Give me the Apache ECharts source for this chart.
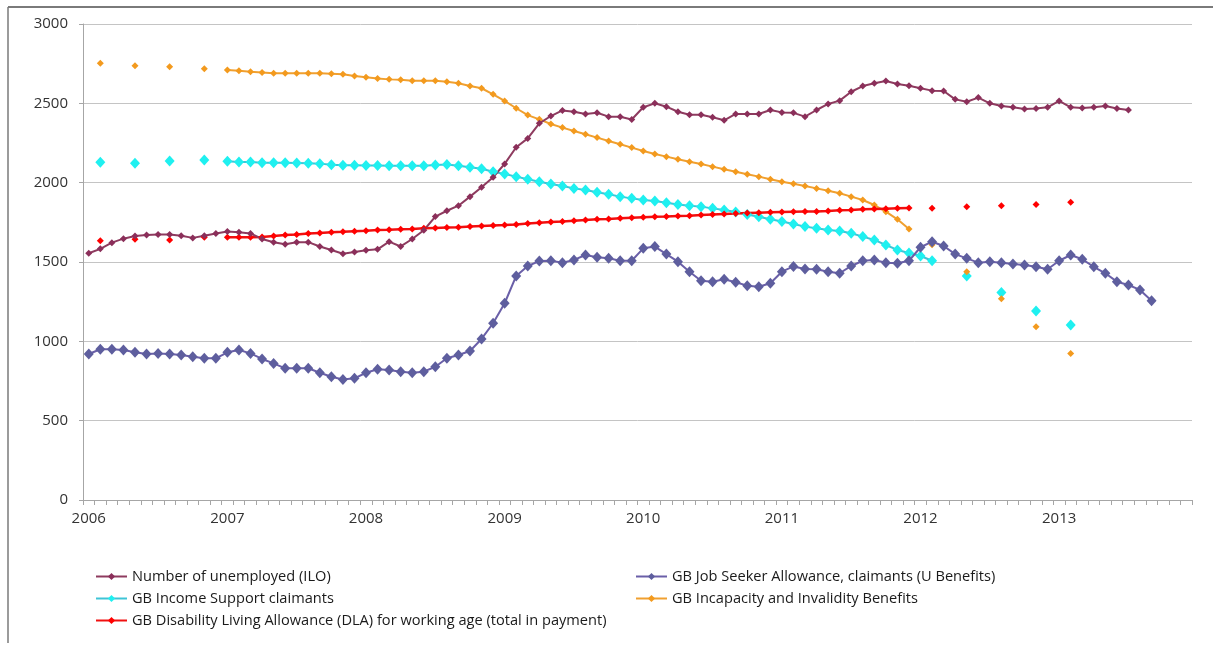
<!DOCTYPE html>
<html>
<head>
<meta charset="utf-8">
<script src="https://cdn.jsdelivr.net/npm/echarts@6/dist/echarts.min.js"></script>
<style>
html,body{margin:0;padding:0;background:#fff;}
#chart{width:1213px;height:648px;}
</style>
</head>
<body>
<div id="chart"></div>
<script>
// ---- data (thousands), monthly slots Jan 2006 .. Dec 2013 ----
const years = ['2006','2007','2008','2009','2010','2011','2012','2013'];
const monthNames = ['01','02','03','04','05','06','07','08','09','10','11','12'];

const seriesNames = [
  'Number of unemployed (ILO)',
  'GB Job Seeker Allowance, claimants (U Benefits)',
  'GB Income Support claimants',
  'GB Incapacity and Invalidity Benefits',
  'GB Disability Living Allowance (DLA) for working age (total in payment)'
];

const unemployed = [
  1555,1583,1622,1647,1664,1670,1674,1674,1666,1652,
  1665,1680,1692,1687,1680,1645,1624,1612,1625,1625,
  1598,1576,1552,1563,1574,1580,1628,1598,1645,1700,
  1786,1823,1855,1912,1971,2034,2118,2223,2279,2374,
  2420,2455,2447,2433,2441,2416,2416,2398,2475,2500,
  2479,2447,2428,2428,2412,2393,2433,2433,2433,2458,
  2443,2440,2416,2458,2496,2517,2573,2609,2626,2641,
  2622,2611,2595,2580,2578,2525,2510,2536,2500,2483,
  2475,2464,2468,2475,2515,2475,2470,2475,2483,2468,
  2458,null,null,null,null,null
];

const jobSeekers = [
  920,950,950,945,931,920,924,920,914,903,
  893,893,931,945,924,889,861,830,830,830,
  802,777,760,767,802,824,819,809,802,809,
  840,893,914,939,1015,1114,1240,1412,1475,1506,
  1508,1496,1513,1544,1530,1523,1508,1508,1586,1597,
  1550,1502,1439,1382,1376,1391,1372,1351,1344,1366,
  1439,1472,1456,1454,1439,1429,1475,1508,1513,1496,
  1492,1508,1593,1628,1601,1550,1523,1496,1502,1496,
  1487,1481,1470,1454,1508,1544,1517,1470,1429,1376,
  1355,1324,1256,null,null,null
];

const incomeSupport = [
  null,2128,null,null,2122,null,null,2137,null,null,2143,null,
  2135,2130,2130,2126,2126,2126,2124,2122,2120,2113,
  2110,2109,2108,2108,2107,2107,2107,2107,2111,2114,
  2107,2097,2088,2069,2055,2038,2021,2006,1992,1979,
  1964,1954,1939,1927,1912,1901,1891,1884,1874,1863,
  1855,1849,1838,1828,1815,1800,1785,1770,1755,1740,
  1723,1712,1702,1695,1681,1660,1639,1607,1576,1557,
  1538,1508,
  null,null,1412,null,null,1307,null,null,1191,null,null,1103,
  null,null,null,null,null,null,null,null,null,null
];

const incapacity = [
  null,2752,null,null,2737,null,null,2731,null,null,2718,null,
  2710,2706,2699,2695,2689,2689,2689,2689,2689,2687,
  2683,2672,2664,2657,2651,2649,2643,2643,2643,2636,
  2626,2609,2595,2557,2515,2469,2426,2399,2370,2347,
  2326,2305,2284,2263,2242,2221,2200,2181,2164,2147,
  2132,2118,2101,2084,2069,2053,2038,2021,2006,1993,
  1979,1964,1949,1933,1912,1891,1859,1817,1769,1708,
  null,1609,null,null,1439,null,null,1269,null,null,1092,null,null,924,
  null,null,null,null,null,null,null,null,null,null
];

const disability = [
  null,1634,null,null,1643,null,null,1639,null,null,1656,null,
  1656,1656,1656,1658,1664,1670,1674,1679,1683,1687,
  1690,1694,1697,1701,1703,1706,1708,1712,1715,1717,
  1719,1723,1727,1730,1733,1737,1743,1748,1752,1755,
  1760,1765,1769,1771,1775,1779,1782,1785,1787,1790,
  1792,1796,1800,1803,1806,1809,1811,1813,1815,1817,
  1818,1819,1821,1826,1828,1832,1834,1836,1838,1840,
  null,1838,null,null,1849,null,null,1855,null,null,1863,null,null,1876,
  null,null,null,null,null,null,null,null,null,null
];

// ---- build ----
const months = [];
years.forEach(y => monthNames.forEach(m => months.push(y + '-' + m)));

const FONT = '"Open Sans", sans-serif';
const chart = echarts.init(document.getElementById('chart'), null, {renderer: 'canvas'});

function lineSeries(name, data, lineColor, markColor, size, width) {
  return {
    name: name, type: 'line', data: data,
    symbol: 'diamond', symbolSize: size, showSymbol: true, showAllSymbol: true,
    connectNulls: false,
    lineStyle: {color: lineColor, width: width},
    itemStyle: {color: markColor, borderWidth: 0},
    emphasis: {disabled: true}
  };
}

const legendText = {fontFamily: FONT, fontSize: 14.6, color: '#1a1a1a'};
function legendItem(name, left, top) {
  return {
    orient: 'horizontal', left: left, top: top, padding: 0,
    itemWidth: 31, itemHeight: 9, itemGap: 4,
    textStyle: legendText,
    data: [name],
    selectedMode: false
  };
}

chart.setOption({
  animation: false,
  backgroundColor: '#ffffff',
  grid: {left: 83, right: 21, top: 24, bottom: 148, containLabel: false},
  xAxis: {
    type: 'category', data: months, boundaryGap: true,
    axisLine: {show: true, lineStyle: {color: '#a6a6a6', width: 1}},
    axisTick: {show: true, interval: 0, length: 5, lineStyle: {color: '#a6a6a6'}},
    axisLabel: {
      interval: function (idx) { return idx % 12 === 0; },
      formatter: function (v) { return v.slice(0, 4); },
      fontFamily: FONT, fontSize: 15, color: '#333', margin: 11
    },
    splitLine: {show: false}
  },
  yAxis: {
    type: 'value', min: 0, max: 3000, interval: 500,
    axisLine: {show: true, lineStyle: {color: '#a6a6a6', width: 1}},
    axisTick: {show: true, length: 4, lineStyle: {color: '#a6a6a6'}},
    axisLabel: {fontFamily: FONT, fontSize: 15, color: '#333', margin: 15,
      formatter: function (v) { return String(v); }},
    splitLine: {show: true, lineStyle: {color: '#c4c4c4', width: 1}}
  },
  legend: [
    legendItem(seriesNames[0], 95, 569),
    legendItem(seriesNames[2], 95, 591),
    legendItem(seriesNames[4], 95, 613),
    legendItem(seriesNames[1], 635, 569),
    legendItem(seriesNames[3], 635, 591)
  ],
  graphic: [
    {type: 'line', shape: {x1: 8, y1: 7, x2: 1213, y2: 7}, style: {stroke: '#7a7a7a', lineWidth: 2}, z: 100},
    {type: 'line', shape: {x1: 8, y1: 7, x2: 8, y2: 643}, style: {stroke: '#7a7a7a', lineWidth: 1.5}, z: 100}
  ],
  series: [
    lineSeries(seriesNames[2], incomeSupport, '#3fc4d6', '#1ff0f0', [10, 11], 2),
    lineSeries(seriesNames[3], incapacity, '#f0a030', '#f39a1e', [7, 7], 2),
    lineSeries(seriesNames[4], disability, '#f01010', '#ff0000', [7, 7], 2.5),
    lineSeries(seriesNames[1], jobSeekers, '#6a5fa8', '#5e5e9e', [10, 11], 2),
    lineSeries(seriesNames[0], unemployed, '#8e3b5f', '#8b2f5a', [7, 7], 2)
  ]
});
</script>
</body>
</html>
